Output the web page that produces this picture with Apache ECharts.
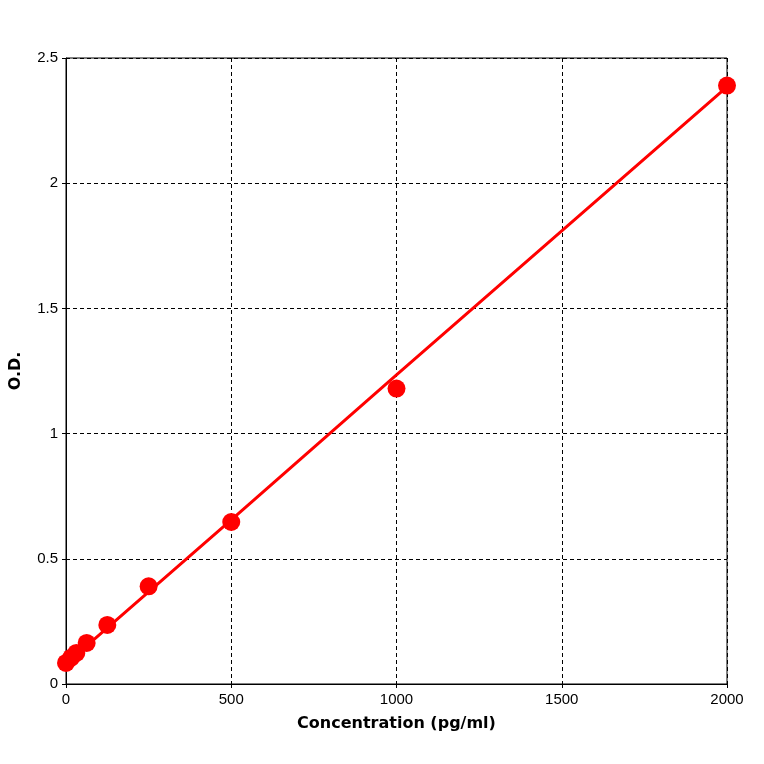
<!DOCTYPE html>
<html>
<head>
<meta charset="utf-8">
<script src="https://cdn.jsdelivr.net/npm/echarts@6/dist/echarts.min.js"></script>
<style>html,body{margin:0;background:#fff}#main{width:764px;height:764px}</style>
</head>
<body>
<div id="main"></div>
<script>
var concentrations = [0, 15.6, 31.25, 62.5, 125, 250, 500, 1000, 2000];
var odValues = [0.084, 0.105, 0.124, 0.164, 0.236, 0.39, 0.647, 1.18, 2.39];
var fitX = [0, 500, 1000, 2000];
var fitY = [0.08, 0.655, 1.235, 2.385];

var chart = echarts.init(document.getElementById("main"));
var axisText = { color: "#000", fontSize: 15, fontFamily: "Liberation Sans" };
var grid = { show: true, lineStyle: { color: "#000", type: [4, 3], width: 1 } };
chart.setOption({
  animation: false,
  grid: { left: 62, right: 37, top: 58, bottom: 80, show: true, borderColor: "#000", borderWidth: 1 },
  xAxis: {
    type: "value", min: 0, max: 2000, interval: 500,
    name: "Concentration (pg/ml)", nameLocation: "middle", nameGap: 32,
    nameTextStyle: { color: "#000", fontSize: 16, fontWeight: "bold", fontFamily: "DejaVu Sans" },
    axisLine: { lineStyle: { color: "#000" } },
    axisTick: { show: true, length: 4, lineStyle: { color: "#000" } },
    axisLabel: Object.assign({ formatter: function (v) { return String(v); } }, axisText),
    splitLine: grid
  },
  yAxis: {
    type: "value", min: 0, max: 2.5, interval: 0.5,
    name: "O.D.", nameLocation: "middle", nameGap: 42,
    nameTextStyle: { color: "#000", fontSize: 16, fontWeight: "bold", fontFamily: "DejaVu Sans" },
    axisLine: { lineStyle: { color: "#000" } },
    axisTick: { show: true, length: 4, lineStyle: { color: "#000" } },
    axisLabel: axisText,
    splitLine: grid
  },
  series: [
    {
      type: "line",
      data: fitX.map(function (x, i) { return [x, fitY[i]]; }),
      showSymbol: false,
      lineStyle: { color: "#f00", width: 3 }
    },
    {
      type: "scatter",
      data: concentrations.map(function (x, i) { return [x, odValues[i]]; }),
      symbol: "circle",
      symbolSize: 18,
      itemStyle: { color: "#f00", opacity: 1 }
    }
  ]
});
</script>
</body>
</html>
